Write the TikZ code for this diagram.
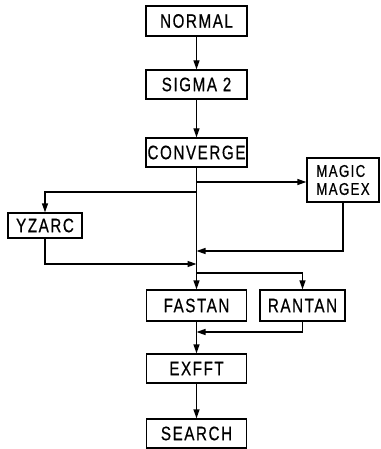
\documentclass[tikz,border=0pt]{standalone}
\usepackage{fontspec}
\newfontfamily\lbl{Liberation Sans}[FakeStretch=0.78,LetterSpace=8,FakeBold=0.5]
\usetikzlibrary{arrows.meta}
\begin{document}
\begin{tikzpicture}[x=1pt,y=-1pt,
  box/.style={draw,line width=1.3pt,inner sep=0pt,font=\lbl\fontsize{19.5}{21}\selectfont,align=center},
  conn/.style={line width=1.3pt},
  arr/.style={conn,-{Triangle[length=9pt,width=6pt]}}]
\useasboundingbox (0,0) rectangle (380,449);
\node[box,minimum width=101pt,minimum height=30pt] (normal) at (196.5,21) {NORMAL};
\node[box,minimum width=101pt,minimum height=29pt] (sigma) at (196.5,84.5) {SIGMA 2};
\node[box,minimum width=101pt,minimum height=29pt] (conv) at (196.5,152.5) {CONVERGE};
\node[box,minimum width=72pt,minimum height=44pt,font=\lbl\fontsize{17}{18}\selectfont,align=left] (magic) at (343,180) {MAGIC\\MAGEX};
\node[box,minimum width=74pt,minimum height=25pt] (yzarc) at (45,225.5) {YZARC};
\node[box,minimum width=100pt,minimum height=31pt] (fastan) at (196.5,305.5) {FASTAN};
\node[box,minimum width=85pt,minimum height=31pt] (rantan) at (302.5,305.5) {RANTAN};
\node[box,minimum width=100pt,minimum height=29pt] (exfft) at (196.5,368.5) {EXFFT};
\node[box,minimum width=100pt,minimum height=29pt] (search) at (196.5,433.5) {SEARCH};
% junctions
\coordinate (j1) at (196.5,182);
\coordinate (j2) at (196.5,192);
\coordinate (j3) at (196.5,251);
\coordinate (j4) at (196.5,264);
\coordinate (j5) at (196.5,273);
\coordinate (j6) at (196.5,332);
\draw[arr] (normal) -- (sigma);
\draw[arr] (sigma) -- (conv);
\draw[conn] (conv.south) -- (j5);
\draw[arr] (j1) -- (magic.west |- j1);
\draw[arr] (j2) -| (yzarc.north);
\draw[arr] (magic.south) |- (j3);
\draw[arr] (yzarc.south) |- (j4);
\draw[arr] (j5) -- (fastan.north);
\draw[arr] (j5) -| (rantan.north);
\draw[conn] (fastan.south) -- (j6);
\draw[arr] (rantan.south) |- (j6);
\draw[arr] (j6) -- (exfft.north);
\draw[arr] (exfft) -- (search);
\end{tikzpicture}
\end{document}
